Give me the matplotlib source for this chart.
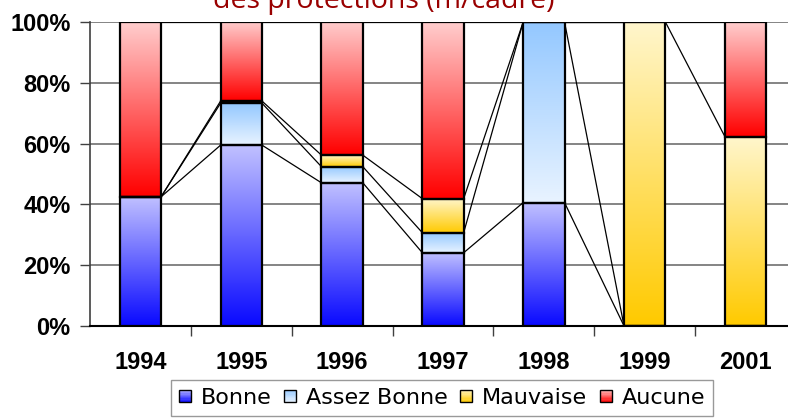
import numpy as np
import matplotlib
matplotlib.use("Agg")
import matplotlib.pyplot as plt
from matplotlib.patches import Rectangle, Patch
from matplotlib.legend_handler import HandlerBase
from matplotlib.colors import to_rgb
from matplotlib.ticker import FixedLocator

# ---- data ----
years = ["1994", "1995", "1996", "1997", "1998", "1999", "2001"]
series_names = ["Bonne", "Assez Bonne", "Mauvaise", "Aucune"]
bonne = [42.5, 59.5, 47.1, 24.1, 40.6, 0.0, 0.0]
assez_bonne = [0.0, 13.8, 5.3, 6.6, 59.4, 0.0, 0.0]
mauvaise = [0.0, 0.7, 3.8, 11.2, 0.0, 100.0, 62.3]
aucune = [57.5, 26.0, 43.8, 58.1, 0.0, 0.0, 37.7]
y_ticks = [0, 20, 40, 60, 80, 100]
y_labels = ["0%", "20%", "40%", "60%", "80%", "100%"]
title_text = "des protections (m/cadre)"

# gradient colours (bottom, top)
grad_colors = [
    ("#0a0aff", "#c0c0ff"),
    ("#e8f3ff", "#94c8ff"),
    ("#ffca00", "#fff6cc"),
    ("#ff0000", "#ffcccc"),
]

W, H = 788, 419
fig = plt.figure(figsize=(W / 100, H / 100), dpi=100)
ax = fig.add_axes([90 / W, 93 / H, (796 - 90) / W, 304 / H])

x = np.arange(len(years))
bw = 0.41
data = [bonne, assez_bonne, mauvaise, aucune]
bottom = np.zeros(len(years))
cums = []


def grad_img(c0, c1, n=64):
    a = np.array(to_rgb(c0))
    b = np.array(to_rgb(c1))
    t = np.linspace(0, 1, n)[:, None]
    return (a + (b - a) * t)[:, None, :]


for k, vals in enumerate(data):
    vals = np.array(vals, dtype=float)
    bars = ax.bar(x, vals, bw, bottom=bottom, facecolor="none",
                  edgecolor="black", linewidth=1.6, zorder=4)
    for r in bars:
        if r.get_height() > 0:
            ax.imshow(grad_img(*grad_colors[k]), origin="lower", aspect="auto",
                      extent=(r.get_x(), r.get_x() + r.get_width(),
                              r.get_y(), r.get_y() + r.get_height()),
                      zorder=3, interpolation="bilinear")
    bottom = bottom + vals
    cums.append(bottom.copy())

# series lines
for cum in cums:
    for i in range(len(years) - 1):
        ax.plot([x[i] + bw / 2, x[i + 1] - bw / 2], [cum[i], cum[i + 1]],
                color="black", lw=0.9, zorder=2, solid_capstyle="butt")

ax.set_xlim(-0.5, len(years) - 0.5)
ax.set_ylim(0, 100)
ax.set_yticks(y_ticks)
ax.set_yticklabels(y_labels, fontfamily="Liberation Sans", fontweight="bold",
                   fontsize=17)
ax.set_xticks(x)
ax.set_xticklabels(years, fontfamily="Liberation Sans", fontweight="bold",
                   fontsize=17)
ax.xaxis.set_minor_locator(FixedLocator(np.arange(0.5, len(years) - 0.5, 1.0)))
ax.tick_params(axis="x", which="major", length=0, pad=18)
ax.tick_params(axis="x", which="minor", length=7, width=1, color="#404040")
ax.tick_params(axis="y", length=7, width=1, color="#404040", pad=7)

ax.grid(axis="y", color="#707070", lw=1.2, zorder=1)
ax.set_axisbelow(True)
for s in ["top", "right"]:
    ax.spines[s].set_visible(False)
ax.spines["left"].set_color("#404040")
ax.spines["left"].set_linewidth(1.2)
ax.spines["bottom"].set_color("black")
ax.spines["bottom"].set_linewidth(1.5)

# title (partially cut off at the top, as in the source image)
fig.text(384 / W, 1 - 8 / H, title_text, ha="center", va="baseline",
         color="#990000", fontsize=20.5, fontfamily="Open Sans")


# legend with gradient squares
class GradHandler(HandlerBase):
    def __init__(self, c0, c1):
        super().__init__()
        self.c0, self.c1 = c0, c1

    def create_artists(self, legend, orig_handle, xdescent, ydescent,
                       width, height, fontsize, trans):
        size = min(width, height)
        x0 = -xdescent + (width - size) / 2
        y0 = -ydescent + (height - size) / 2
        n = 10
        a = np.array(to_rgb(self.c0))
        b = np.array(to_rgb(self.c1))
        arts = []
        for i in range(n):
            c = a + (b - a) * (i + 0.5) / n
            arts.append(Rectangle((x0, y0 + i * size / n), size, size / n,
                                  facecolor=c, edgecolor="none", transform=trans))
        arts.append(Rectangle((x0, y0), size, size, fill=False,
                              edgecolor="black", lw=1.0, transform=trans))
        return arts


handles = [Patch(label=n) for n in series_names]
hmap = {h: GradHandler(*grad_colors[k]) for k, h in enumerate(handles)}
leg = fig.legend(handles=handles, handler_map=hmap, loc="upper center",
                 bbox_to_anchor=(442 / W, 1 - 380 / H), ncol=4,
                 frameon=True, fancybox=False, edgecolor="#808080",
                 prop={"family": "DejaVu Sans", "size": 16},
                 handlelength=0.55, handleheight=0.55, handletextpad=0.45,
                 columnspacing=0.55, borderpad=0.35, borderaxespad=0)
leg.get_frame().set_linewidth(1.0)

fig.savefig("out.png", dpi=100)
